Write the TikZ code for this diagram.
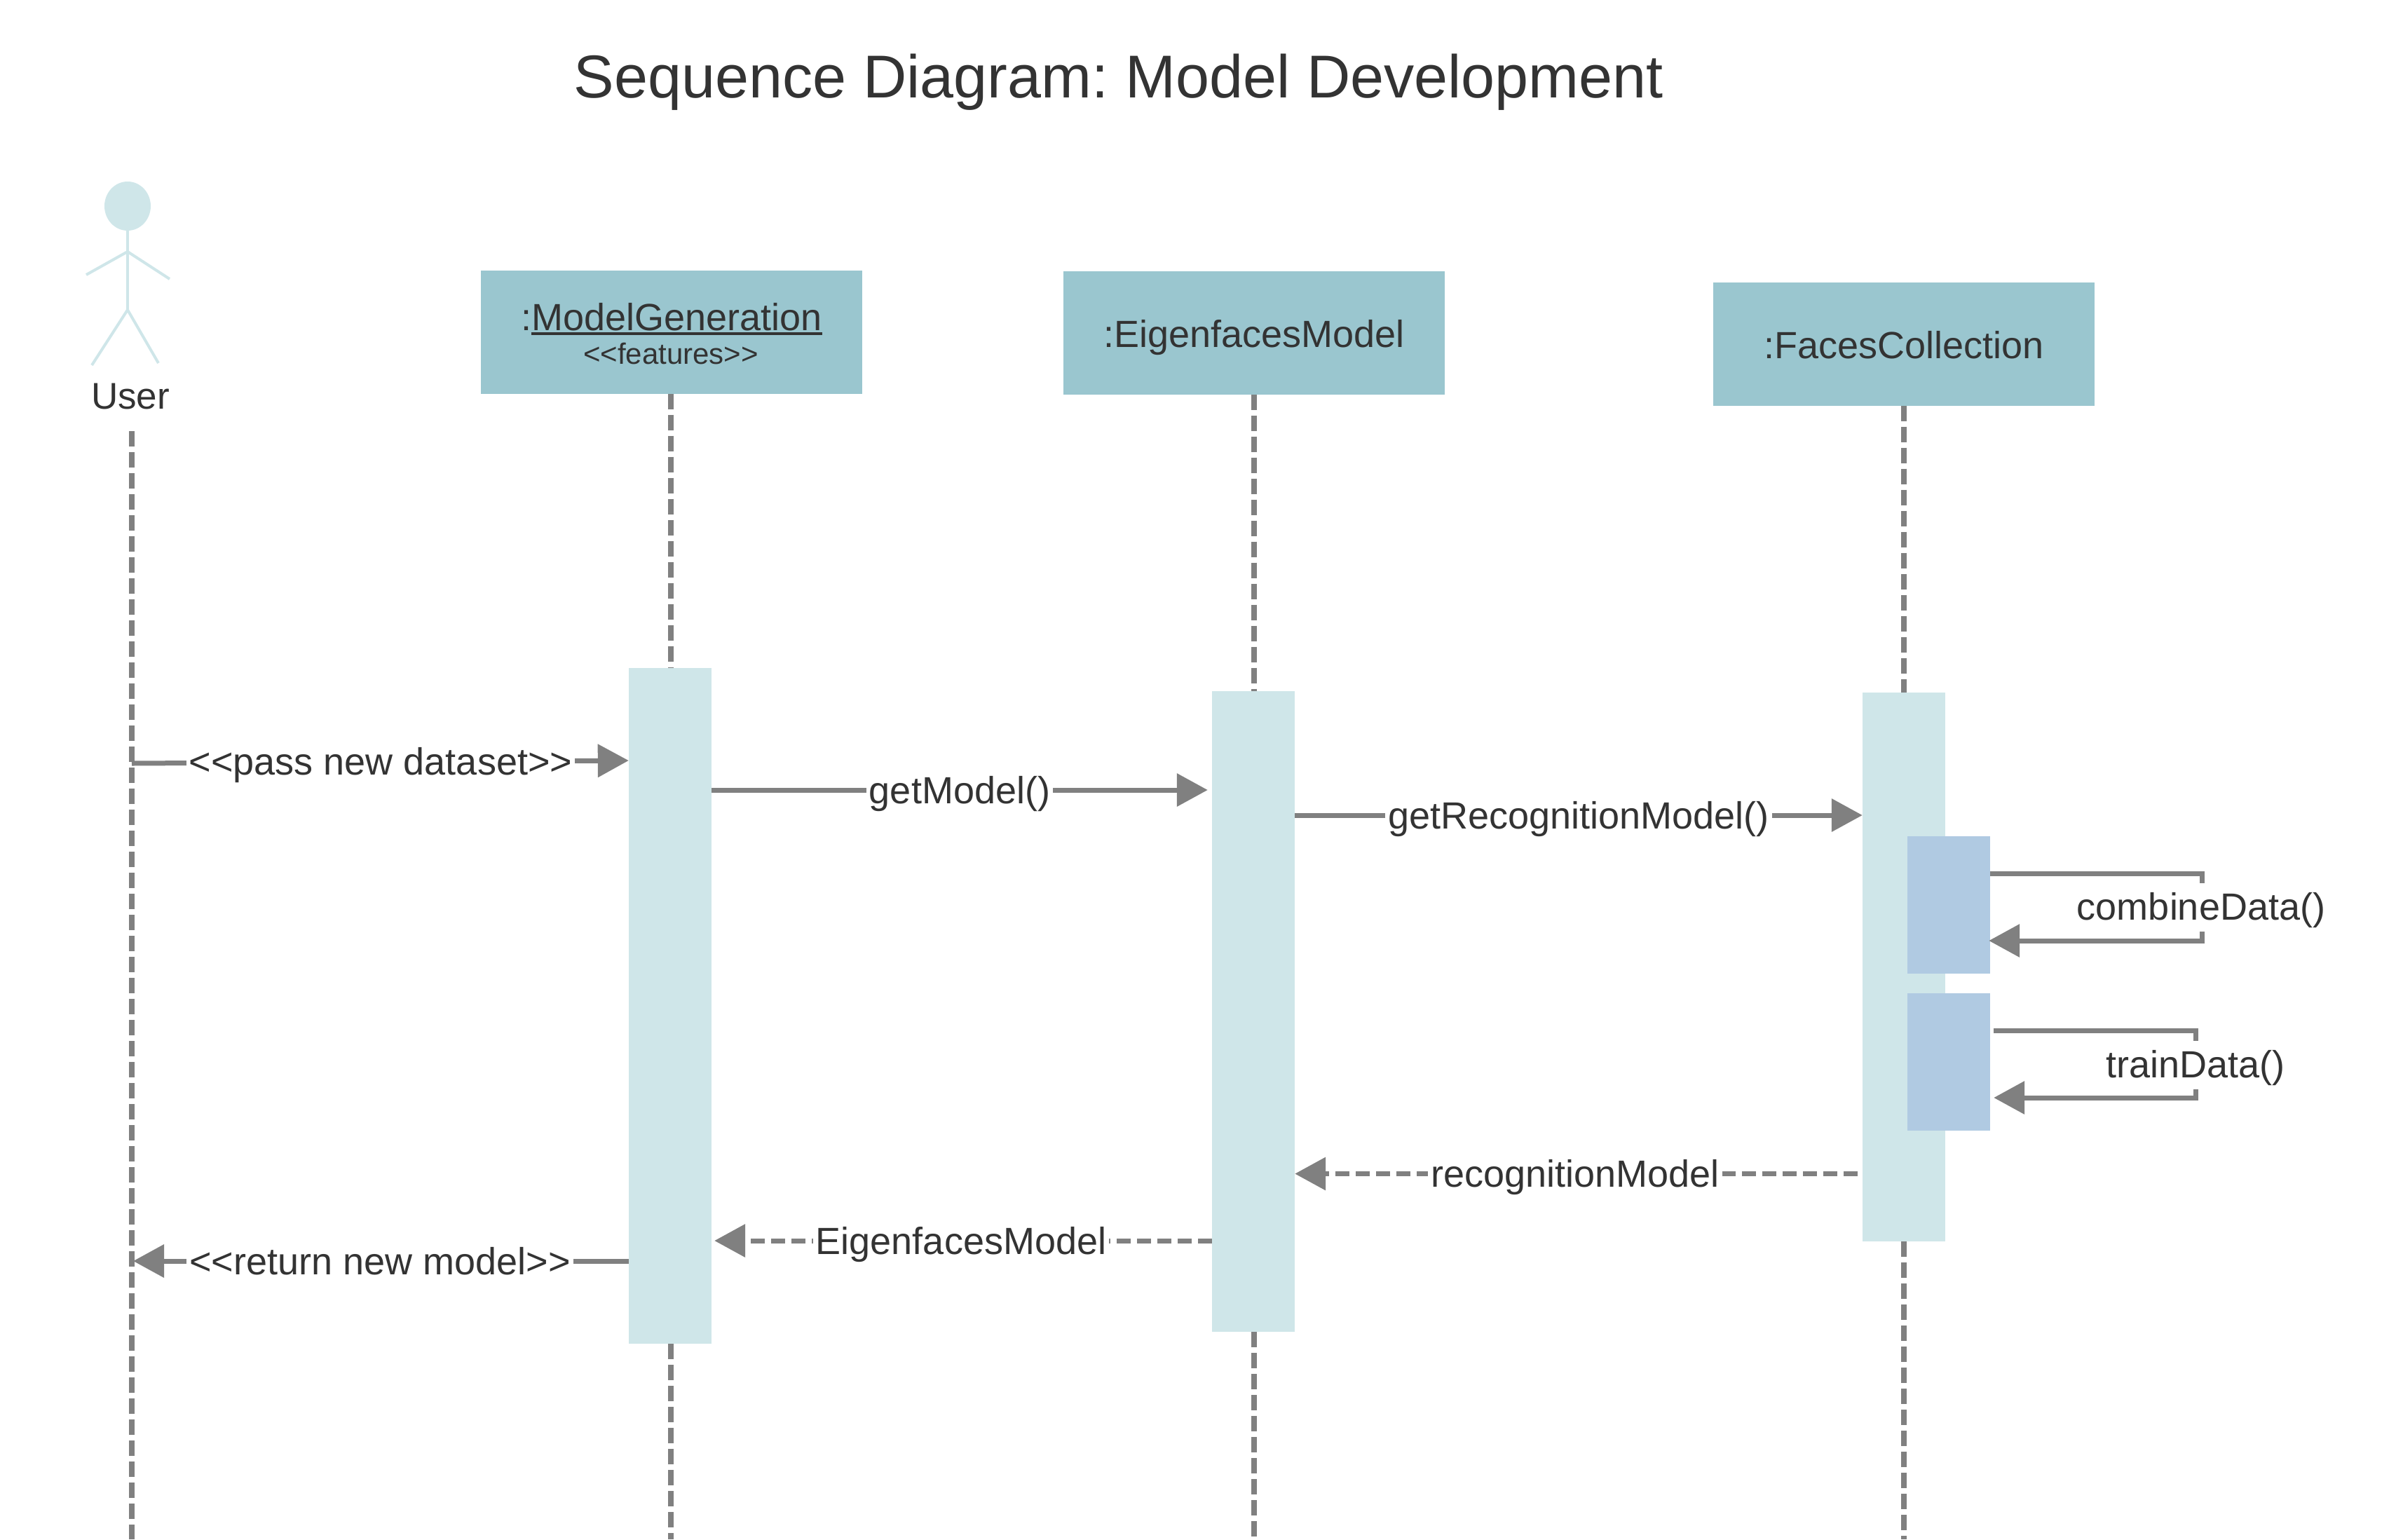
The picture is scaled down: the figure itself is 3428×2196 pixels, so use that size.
\documentclass[tikz,border=0pt]{standalone}
\usepackage{fontspec}
\setmainfont{Liberation Sans}
\usetikzlibrary{arrows.meta,shapes.geometric,calc,backgrounds}
\definecolor{hdr}{HTML}{9AC6CF}
\definecolor{bar}{HTML}{CFE6E9}
\definecolor{sub}{HTML}{B0CAE2}
\definecolor{ln}{HTML}{808080}
\definecolor{ink}{HTML}{333333}
\newcommand\ulword[1]{\setbox0\hbox{#1}\rlap{\rule[-7pt]{\wd0}{4pt}}\box0}
\frenchspacing
\tikzset{
  x=1pt,y=-1pt,
  head/.style={fill=hdr,draw=none,inner sep=0pt,minimum width=544pt,minimum height=176pt,text=ink,font=\fontsize{54}{60}\selectfont},
  headtxt/.style={head,text height=42pt,text depth=0pt},
  txt/.style={inner sep=0pt,text=ink,anchor=base},
  actbar/.style={fill=bar,draw=none,inner sep=0pt,minimum width=118pt},
  subbar/.style={fill=sub,draw=none,inner sep=0pt,minimum width=118pt},
  lifeline/.style={draw=ln,line width=8pt,dash pattern=on 22pt off 8pt},
  msg/.style={draw=ln,line width=7pt,-{Triangle[length=44pt,width=46pt,fill=ln]}},
  reply/.style={msg,dash pattern=on 20pt off 9pt},
  lbl/.style={fill=white,text=ink,inner xsep=4pt,inner ysep=0pt,anchor=base,text height=40pt,text depth=12pt,font=\fontsize{54}{60}\selectfont},
  selflbl/.style={lbl,text height=52pt,text depth=17pt},
  limb/.style={draw=bar,line width=4pt},
}
\begin{document}
\begin{tikzpicture}
\useasboundingbox (0,0) rectangle (3428,2196);

\node[txt,font=\fontsize{86.3}{100}\selectfont] (title) at (1596,139) {Sequence Diagram: Model Development};

% actor
\node[ellipse,fill=bar,draw=none,inner sep=0pt,minimum width=66pt,minimum height=70pt] (ahead) at (182,294) {};
\coordinate (aneck) at (182,359);
\coordinate (ahip) at (182,442);
\coordinate (aarml) at (123,392);
\coordinate (aarmr) at (242,398);
\coordinate (alegl) at (131,521);
\coordinate (alegr) at (226,518);
\draw[limb] (ahead.south) -- (ahip);
\draw[limb] (aarml) -- (aneck) -- (aarmr);
\draw[limb] (alegl) -- (ahip) -- (alegr);
\node[txt,font=\fontsize{53}{60}\selectfont] (user) at (186,583) {User};

% heads
\node[head] (mg) at (958,473.5) {};
\node[txt,font=\fontsize{54}{60}\selectfont] (mgname) at (958,471) {:\ulword{ModelGeneration}};
\node[txt,font=\fontsize{42}{46}\selectfont] (mgstereo) at (957,519) {<{}<features>{}>};
\node[headtxt] (ef) at (1789,474.5) {:EigenfacesModel};
\node[headtxt] (fc) at (2716,490.5) {:FacesCollection};

% activation bars
\node[actbar,minimum height=964pt] (mgbar) at (956,1435) {};
\node[actbar,minimum height=914pt] (efbar) at (1788,1443) {};
\node[actbar,minimum height=783pt] (fcbar) at (2716,1379.5) {};
\node[subbar,minimum height=196pt] (sub1) at (2780,1291) {};
\node[subbar,minimum height=196pt] (sub2) at (2780,1515) {};

% lifelines
\coordinate (utop) at (188,615);
\coordinate (ubot) at (188,2196);
\coordinate (mgbot) at (957,2196);
\coordinate (efbot) at (1789,2196);
\coordinate (fcbot) at (2716,2196);
\begin{scope}[on background layer]
\draw[lifeline] (utop) -- (ubot);
\draw[lifeline] (mgbot |- mg.south) -- (mgbot |- mgbar.north);
\draw[lifeline] (mgbot |- mgbar.south) -- (mgbot);
\draw[lifeline] (ef.south) -- (efbot |- efbar.north);
\draw[lifeline] (efbot |- efbar.south) -- (efbot);
\draw[lifeline] (fc.south) -- (fcbar.north);
\draw[lifeline] (fcbar.south) -- (fcbot);
\end{scope}

% messages
\draw[msg] (utop |- 0,1089) -- (mgbar.west |- 0,1085);
\node[lbl] (m1) at (543,1105) {<{}<pass new dataset>{}>};

\draw[msg] (mgbar.east |- 0,1127) -- ([xshift=-6pt]efbar.west |- 0,1127);
\node[lbl] (m2) at (1369,1146) {getModel()};

\draw[msg] (efbar.east |- 0,1163) -- (fcbar.west |- 0,1163);
\node[lbl] (m3) at (2252,1182) {getRecognitionModel()};

\draw[msg,line join=miter] (sub1.east |- 0,1246) -| (3141,1342) -- ([xshift=-2pt]sub1.east |- 0,1342);
\node[selflbl] (m4) at (3140,1312) {combineData()};

\draw[msg,line join=miter] ([xshift=5pt]sub2.east |- 0,1470) -| (3132,1566) -- ([xshift=5pt]sub2.east |- 0,1566);
\node[selflbl] (m5) at (3132,1537) {trainData()};

\draw[reply] ([xshift=-7pt]fcbar.west |- 0,1674.5) -- (efbar.east |- 0,1674.5);
\node[lbl] (m6) at (2247,1693) {recognitionModel};

\draw[reply] (efbar.west |- 0,1770) -- ([xshift=4pt]mgbar.east |- 0,1770);
\node[lbl] (m7) at (1371,1789) {EigenfacesModel};

\draw[msg] (mgbar.west |- 0,1799) -- ([xshift=2pt]utop |- 0,1799);
\node[lbl] (m8) at (542,1818) {<{}<return new model>{}>};
\end{tikzpicture}
\end{document}
